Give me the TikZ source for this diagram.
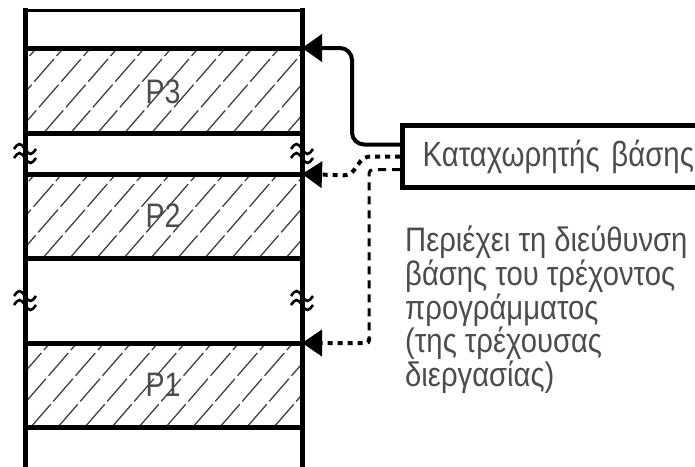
\documentclass[tikz,border=0pt]{standalone}
\usepackage{fontspec}
\setmainfont{Liberation Sans}
\newfontfamily\narrowfont[FakeStretch=0.84]{Liberation Sans}
\newfontfamily\descfont[FakeStretch=0.86]{Liberation Sans}
\usetikzlibrary{arrows.meta}
\begin{document}
\begin{tikzpicture}[x=1pt,y=-1pt,
  wallline/.style={line width=5pt, line cap=rect},
  topline/.style={line width=3pt},
  hatchline/.style={line width=1.3pt, black!75, dash pattern=on 30pt off 4pt},
  plabel/.style={font=\narrowfont\fontsize{34}{34}\selectfont, text=black!70, inner sep=0pt},
  regbox/.style={draw, line width=5pt, minimum width=330pt, minimum height=62pt,
    text width=290pt, align=left, inner xsep=20pt, inner ysep=0pt,
    font=\narrowfont\fontsize{35}{35}\selectfont, text=black!70},
  desc/.style={font=\descfont\fontsize{34}{31}\selectfont, text=black!70, align=left, inner sep=0pt},
  solidconn/.style={line width=4pt, rounded corners=12pt, -{Triangle[length=20pt,width=27pt]}},
  dotconn/.style={line width=4pt, dash pattern=on 5pt off 5pt, rounded corners=6pt, -{Triangle[length=20pt,width=26pt]}},
  dashconn/.style={line width=3pt, dash pattern=on 8pt off 6pt},
  wave/.pic={
    \draw[line width=2.6pt] (-11,-4) sin (-5.5,-9) cos (0,-4) sin (5.5,1) cos (11,-4);
    \draw[line width=2.6pt] (-11,5) sin (-5.5,0) cos (0,5) sin (5.5,10) cos (11,5);
  }
]
\useasboundingbox (0,0) rectangle (695,466);
\clip (0,0) rectangle (695,466);

% hatching of the three program areas
\foreach \ya/\yb in {48/133, 174/258, 343/427} {
  \begin{scope}
    \clip (25,\ya) rectangle (302,\yb);
    \foreach \k in {-11,...,13} {
      \draw[hatchline] ({50+27*\k+(343-\yb)/1.15},\yb) -- ({50+27*\k+(343-\ya)/1.15},\ya);
    }
  \end{scope}
}

% memory column
\draw[topline] (25,10) -- (302,10);
\foreach \yy in {48,133,174,258,343,427} {
  \draw[wallline] (25,\yy) -- (302,\yy);
}
\draw[wallline] (25,10) -- (25,480);
\draw[wallline] (302,10) -- (302,480);

% break marks
\pic at (25,153) {wave};
\pic at (302,153) {wave};
\pic at (25,300) {wave};
\pic at (302,300) {wave};

% labels
\node[plabel] (p3) at (163,92) {P3};
\node[plabel] (p2) at (163,216) {P2};
\node[plabel] (p1) at (163,385) {P1};

% targets on the wall
\coordinate (m3) at (302,48);
\coordinate (m2) at (302,174);
\coordinate (m1) at (302,343);

% base register
\node[regbox, anchor=north west] (reg) at (400,123) {Καταχωρητής βάσης};

% connectors
\draw[solidconn] ([yshift=12pt]reg.west) -- ++(-48,0) |- (m3);
\draw[dotconn] (reg.west) -- ++(-36,0) -- ++(-14,19) -- (m2);
\coordinate (bend) at (369,338);
\draw[dashconn, rounded corners=4pt] ([yshift=-13pt]reg.west) -| (bend);
\draw[dotconn, rounded corners=3pt] (bend) |- (m1);

% description
\node[desc, anchor=north west] (txt) at (405,226) {Περιέχει τη διεύθυνση\\βάσης του τρέχοντος\\προγράμματος\\(της τρέχουσας\\διεργασίας)};
\end{tikzpicture}
\end{document}
